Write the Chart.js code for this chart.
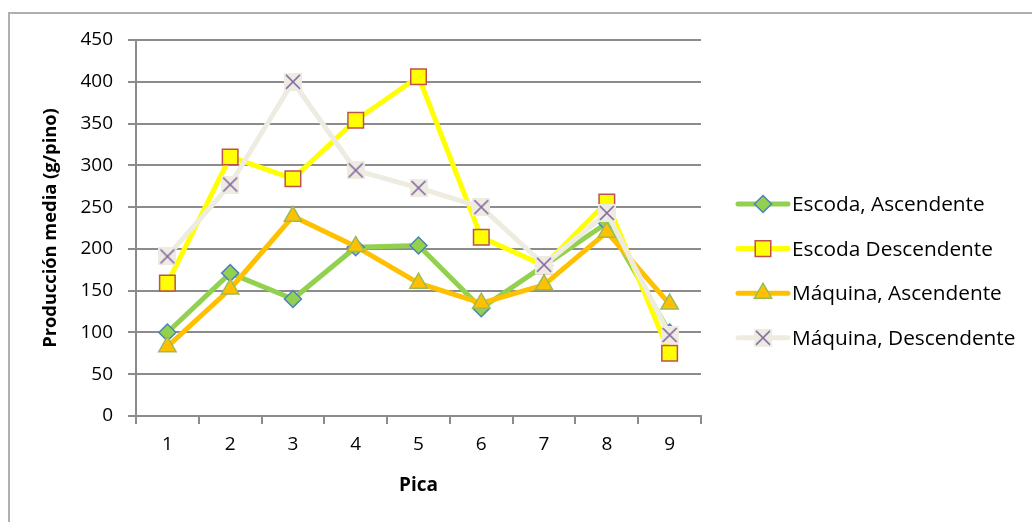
<!DOCTYPE html>
<html>
<head>
<meta charset="utf-8">
<script src="https://cdn.jsdelivr.net/npm/chart.js@4.4.0/dist/chart.umd.min.js"></script>
<style>
  html, body { margin: 0; padding: 0; background: #fff; }
  #wrap { position: relative; width: 1032px; height: 522px; overflow: hidden; }
  #frame { position: absolute; left: 8px; top: 12px; right: -4px; bottom: -4px;
           border-top: 2px solid #b0b0b0; border-left: 2px solid #b0b0b0; }
  #c { position: absolute; left: 0; top: 0; }
</style>
</head>
<body>
<div id="wrap">
  <div id="frame"></div>
  <canvas id="c" width="1032" height="522"></canvas>
</div>
<script>
// Producción media por pica (g/pino)
const picas = ['1', '2', '3', '4', '5', '6', '7', '8', '9'];
const escodaAscendente   = [100, 171, 140, 202, 204, 129, 180, 231, 100];
const escodaDescendente  = [159, 310, 284, 354, 406, 214, 180, 256, 75];
const maquinaAscendente  = [83, 152, 239, 203, 159, 135, 157, 220, 134];
const maquinaDescendente = [191, 277, 400, 294, 273, 250, 181, 243, 97];
const yMin = 0, yMax = 450, yStep = 50;

const FONT = '"Open Sans", Calibri, Lato, sans-serif';

// light square with a purple X, used as the "cross" marker
function crossMarker() {
  const s = 18;
  const cv = document.createElement('canvas');
  cv.width = s; cv.height = s;
  const g = cv.getContext('2d');
  g.fillStyle = '#EEECE1';
  g.fillRect(0, 0, s, s);
  g.strokeStyle = '#8064A2';
  g.lineWidth = 1.6;
  g.beginPath();
  g.moveTo(2, 2); g.lineTo(s - 2, s - 2);
  g.moveTo(s - 2, 2); g.lineTo(2, s - 2);
  g.stroke();
  return cv;
}

function series(label, data, line, style, fill, border, radius, order) {
  return {
    label, data, order,
    borderColor: line, borderWidth: 5,
    borderJoinStyle: 'round', borderCapStyle: 'round',
    tension: 0, fill: false,
    pointStyle: style, pointRadius: radius, pointHoverRadius: radius,
    pointBackgroundColor: fill, pointBorderColor: border, pointBorderWidth: 1.5
  };
}

const datasets = [
  series('Escoda, Ascendente', escodaAscendente, '#92D050', 'rectRot', '#92D050', '#4F81BD', 8.5, 4),
  series('Escoda Descendente', escodaDescendente, '#FFFF00', 'rect', '#FFFF00', '#C0504D', 11, 3),
  series('Máquina, Ascendente', maquinaAscendente, '#FFC000', 'triangle', '#FFC000', '#9BBB59', 10, 2),
  series('Máquina, Descendente', maquinaDescendente, '#EEECE1', crossMarker(), '#EEECE1', '#8064A2', 9, 1)
];

// legend on the right: line sample with marker, then label
const sideLegend = {
  id: 'sideLegend',
  afterDraw(chart) {
    const ctx = chart.ctx;
    const x0 = 738, x1 = 788, top = 204, gap = 44.6;
    chart.data.datasets.forEach((ds, i) => {
      const y = top + i * gap;
      ctx.save();
      ctx.strokeStyle = ds.borderColor;
      ctx.lineWidth = ds.borderWidth;
      ctx.lineCap = 'round';
      ctx.beginPath();
      ctx.moveTo(x0, y); ctx.lineTo(x1, y);
      ctx.stroke();
      ctx.fillStyle = ds.pointBackgroundColor;
      ctx.strokeStyle = ds.pointBorderColor;
      ctx.lineWidth = ds.pointBorderWidth;
      Chart.helpers.drawPoint(ctx, {
        pointStyle: ds.pointStyle, radius: ds.pointRadius,
        borderWidth: ds.pointBorderWidth, rotation: 0
      }, (x0 + x1) / 2, y);
      ctx.fillStyle = '#000';
      ctx.font = '20.8px ' + FONT;
      ctx.textBaseline = 'middle';
      ctx.textAlign = 'left';
      ctx.fillText(ds.label, x1 + 4, y + 1);
      ctx.restore();
    });
  }
};

new Chart(document.getElementById('c'), {
  type: 'line',
  data: { labels: picas, datasets },
  plugins: [sideLegend],
  options: {
    responsive: false,
    animation: false,
    layout: { padding: { left: 0, top: 40, right: 331, bottom: 0 } },
    plugins: { legend: { display: false }, tooltip: { enabled: false } },
    scales: {
      x: {
        type: 'category',
        offset: true,
        grid: { offset: true, drawOnChartArea: false, drawTicks: true, tickLength: 8,
                color: '#8c8c8c', lineWidth: 2 },
        border: { color: '#8c8c8c', width: 2 },
        ticks: { color: '#000', font: { family: FONT, size: 19 }, padding: 9, maxRotation: 0 },
        title: { display: true, text: 'Pica', color: '#000',
                 font: { family: FONT, size: 19, weight: 'bold' },
                 padding: { top: 0, bottom: 25 } },
        afterFit(scale) { scale.height = 106; }
      },
      y: {
        min: yMin, max: yMax,
        ticks: { stepSize: yStep, color: '#000', font: { family: FONT, size: 19 }, padding: 15 },
        grid: { color: '#8c8c8c', lineWidth: 2, tickLength: 8, drawTicks: true },
        border: { color: '#8c8c8c', width: 2 },
        title: { display: true, text: 'Producción media (g/pino)', color: '#000',
                 font: { family: FONT, size: 18.3, weight: 'bold' },
                 padding: { top: 40, bottom: 0 } },
        afterFit(scale) { scale.width = 136; }
      }
    }
  }
});
</script>
</body>
</html>
